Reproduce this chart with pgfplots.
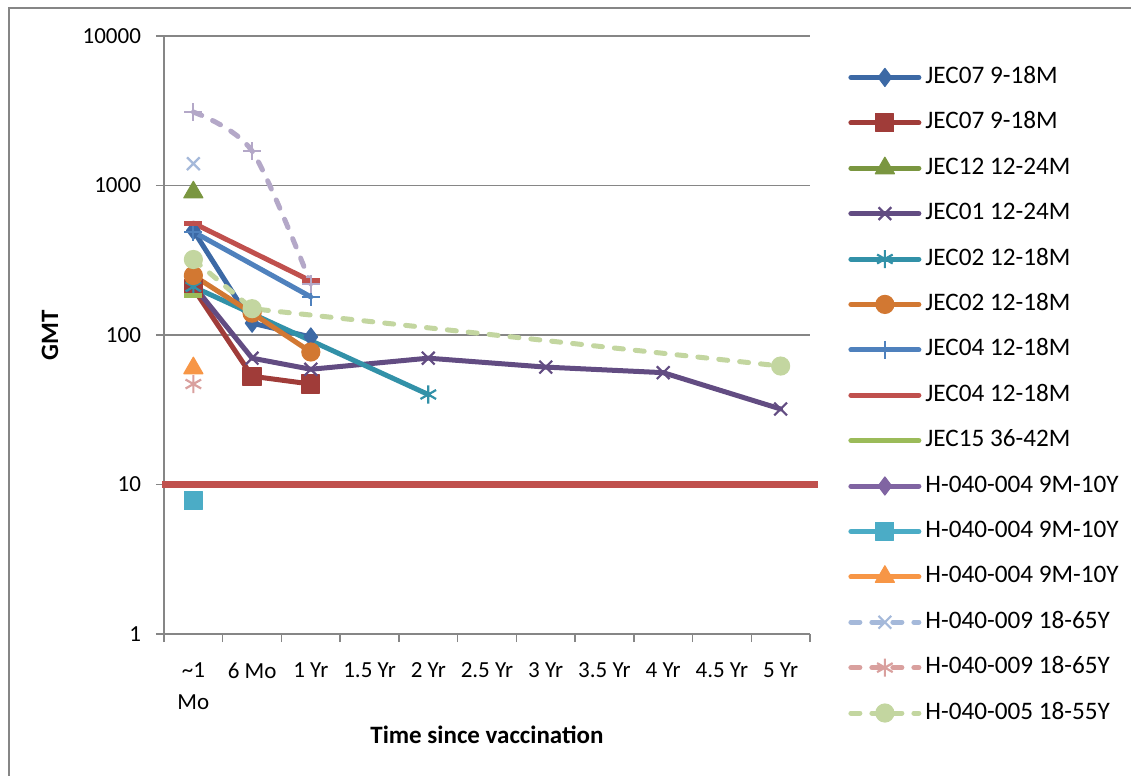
\documentclass[border=0pt]{standalone}
\usepackage{fontspec}
\setmainfont{Carlito}
\usepackage{pgfplots}
\pgfplotsset{compat=1.18}
\definecolor{axgray}{RGB}{134,134,134}
\definecolor{cA}{RGB}{60,105,165}
\definecolor{cB}{RGB}{160,60,57}
\definecolor{cC}{RGB}{122,150,64}
\definecolor{cD}{RGB}{98,76,130}
\definecolor{cE}{RGB}{50,145,168}
\definecolor{cF}{RGB}{210,120,50}
\definecolor{cG}{RGB}{79,129,189}
\definecolor{cH}{RGB}{192,80,77}
\definecolor{cI}{RGB}{155,187,89}
\definecolor{cJ}{RGB}{128,100,162}
\definecolor{cK}{RGB}{75,172,198}
\definecolor{cL}{RGB}{247,150,70}
\definecolor{cM}{RGB}{165,185,218}
\definecolor{cN}{RGB}{217,160,158}
\definecolor{cO}{RGB}{195,214,160}
\definecolor{cP}{RGB}{180,168,200}
\pgfplotsset{
  ser/.style 2 args={color=#1, line width=2.5pt, line join=round, line cap=round,
    mark options={solid, fill=#1, draw=#1, line width=#2, line cap=butt}},
  dsh/.style={dash pattern=on 4.5pt off 6pt},
}
\begin{document}
\begin{tikzpicture}
\useasboundingbox (0pt,0pt) rectangle (565.5pt,-388pt);
\draw[color=axgray, line width=0.75pt] (4.5pt,-388pt) -- (4.5pt,-4pt) -- (565.5pt,-4pt);
\begin{axis}[
  at={(82pt,-317pt)}, anchor=south west,
  width=323pt, height=299pt, scale only axis,
  ymode=log, ymin=1, ymax=10000,
  xmin=-0.5, xmax=10.5,
  clip=false,
  axis x line*=bottom, axis y line*=left,
  axis line style={draw=axgray, line width=0.75pt, -},
  tick align=outside,
  every tick/.style={draw=axgray, line width=0.75pt},
  ytick={1,10,100,1000,10000},
  yticklabels={1,10,100,1000,10000},
  yminorticks=false,
  major tick length=4pt,
  ymajorgrids,
  major grid style={draw=axgray, line width=0.75pt},
  xtick={0,...,10},
  xticklabels={{\textasciitilde1\\Mo},6 Mo,1 Yr,1.5 Yr,2 Yr,2.5 Yr,3 Yr,3.5 Yr,4 Yr,4.5 Yr,5 Yr},
  x tick style={draw=none},
  extra x ticks={-0.5,0.5,...,10.5},
  extra x tick labels={},
  extra x tick style={x tick style={draw=axgray, line width=0.75pt}, xmajorgrids=false},
  xticklabel style={align=center, font=\fontsize{11.5}{16}\selectfont, anchor=north, yshift=-7pt},
  yticklabel style={font=\fontsize{11.5}{14}\selectfont, anchor=east, xshift=-4pt},
  /pgf/number format/assume math mode=true,
  ylabel={\textbf{GMT}},
  xlabel={\textbf{Time since vaccination}},
  every axis y label/.style={at={(axis description cs:-0.1765,0.5)}, rotate=90, anchor=center, font=\fontsize{12.5}{15}\selectfont},
  every axis x label/.style={at={(axis description cs:0.5,-0.1689)}, anchor=center, font=\fontsize{12.5}{15}\selectfont},
  legend style={at={(axis description cs:1.0588,0.9515)}, anchor=north west, draw=none, fill=none, inner sep=0pt,
    font=\fontsize{12.6}{15}\selectfont, row sep=10.7pt,
    nodes={inner sep=0pt, text height=9pt, text depth=3pt, anchor=west},
    /tikz/every odd column/.append style={column sep=2pt}},
  legend cell align=left,
  legend image code/.code={\draw[mark repeat=2,mark phase=2] plot coordinates {(0pt,0pt)(17pt,0pt)(34pt,0pt)};},
]
% 1 JEC07 diamond
\addplot[ser={cA}{0.6pt}, mark=diamond*, mark size=4.5pt] coordinates {(0,500)(1,120)(2,97)};
\addlegendentry{JEC07 9-18M}
% 2 JEC07 square
\addplot[ser={cB}{0.6pt}, mark=square*, mark size=4.5pt] coordinates {(0,205)(1,53)(2,47)};
\addlegendentry{JEC07 9-18M}
% 3 JEC12 triangle
\addplot[ser={cC}{0.6pt}, mark=triangle*, mark size=5.5pt] coordinates {(0,900)};
\addlegendentry{JEC12 12-24M}
% 4 JEC01 x
\addplot[ser={cD}{1.1pt}, mark=x, mark size=4.5pt] coordinates {(0,215)(1,70)(2,59)(4,70)(6,61)(8,56)(10,32)};
\addlegendentry{JEC01 12-24M}
% 5 JEC02 asterisk
\addplot[ser={cE}{1.1pt}, mark=asterisk, mark size=4.5pt] coordinates {(0,210)(4,40)};
\addlegendentry{JEC02 12-18M}
% 6 JEC02 circle
\addplot[ser={cF}{0.6pt}, mark=*, mark size=4.5pt] coordinates {(0,250)(1,140)(2,77)};
\addlegendentry{JEC02 12-18M}
% 7 JEC04 plus
\addplot[ser={cG}{1.1pt}, mark=+, mark size=4.5pt] coordinates {(0,490)(2,180)};
\addlegendentry{JEC04 12-18M}
% 8 JEC04 dash
\addplot[ser={cH}{2.5pt}, mark=-, mark size=4.5pt] coordinates {(0,560)(2,230)};
\addlegendentry{JEC04 12-18M}
% 9 JEC15 long dash
\addplot[ser={cI}{2.5pt}, mark=-, mark size=4.5pt] coordinates {(0,185)};
\addlegendentry{JEC15 36-42M}
% 10 H-040-004 diamond (no data shown)
\addlegendimage{ser={cJ}{0.6pt}, mark=diamond*, mark size=4.5pt}
\addlegendentry{H-040-004 9M-10Y}
% 11 square
\addplot[ser={cK}{0.6pt}, mark=square*, mark size=4.5pt] coordinates {(0,7.8)};
\addlegendentry{H-040-004 9M-10Y}
% 12 triangle
\addplot[ser={cL}{0.6pt}, mark=triangle*, mark size=5.5pt] coordinates {(0,60)};
\addlegendentry{H-040-004 9M-10Y}
% 13 x dashed
\addplot[ser={cM}{1.1pt}, dsh, mark=x, mark size=4.5pt] coordinates {(0,1400)};
\addlegendentry{H-040-009 18-65Y}
% 14 asterisk dashed
\addplot[ser={cN}{1.1pt}, dsh, mark=asterisk, mark size=4.5pt] coordinates {(0,47)};
\addlegendentry{H-040-009 18-65Y}
% 15 circle dashed
\addplot[ser={cO}{0.6pt}, dsh, mark=*, mark size=4.5pt] coordinates {(0,320)(1,150)(10,62)};
\addlegendentry{H-040-005 18-55Y}
% 16 plus dashed smooth (not in legend)
\addplot[ser={cP}{1.1pt}, dsh, smooth, mark=+, mark size=4.5pt, forget plot] coordinates {(0,3100)(1,1700)(2,220)};
% threshold line at 10
\addplot[forget plot, color=cH, line width=3.5pt, line cap=butt] coordinates {(-0.534,10)(10.636,10)};
\end{axis}
\end{tikzpicture}
\end{document}
